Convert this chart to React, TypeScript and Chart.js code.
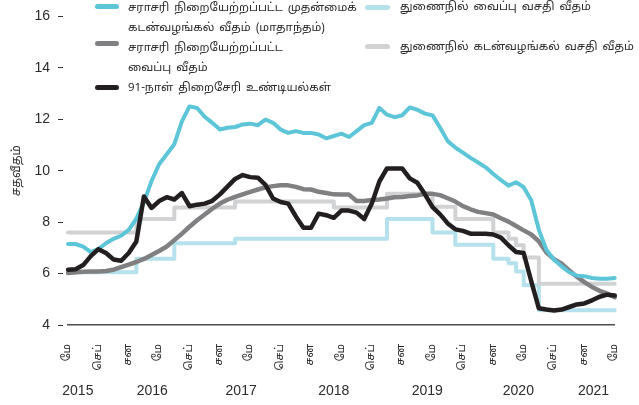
import React, { useEffect, useRef } from 'react';
import { Chart, registerables } from 'chart.js';

Chart.register(...registerables);

// Monthly categories: May 2015 .. May 2021
const START_YEAR = 2015;
const START_MONTH = 4; // May (0-based)
const MONTH_COUNT = 73;
const months: string[] = [];
for (let k = 0; k < MONTH_COUNT; k++) {
  const m = START_MONTH + k;
  months.push(`${START_YEAR + Math.floor(m / 12)}-${String((m % 12) + 1).padStart(2, '0')}`);
}

// Tick labels shown every 4 months
const tickLabels = [
  'மே', 'செப்', 'சன', 'மே', 'செப்', 'சன', 'மே', 'செப்', 'சன', 'மே',
  'செப்', 'சன', 'மே', 'செப்', 'சன', 'மே', 'செப்', 'சன', 'மே',
];

// Year labels and the month index they sit under
const yearLabels = ['2015', '2016', '2017', '2018', '2019', '2020', '2021'];
const yearAnchors = [1.3, 11.1, 22.8, 35.0, 47.3, 59.3, 69.2];

const seriesNames = {
  awpr: ['சராசரி நிறையேற்றப்பட்ட முதன்மைக்', 'கடன்வழங்கல் வீதம் (மாதாந்தம்)'],
  awdr: ['சராசரி நிறையேற்றப்பட்ட', 'வைப்பு வீதம்'],
  tbill: ['91-நாள் திறைசேரி உண்டியல்கள்'],
  sdfr: ['துணைநில் வைப்பு வசதி வீதம்'],
  slfr: ['துணைநில் கடன்வழங்கல் வசதி வீதம்'],
};

const awpr = [
  7.15, 7.15, 7.05, 6.83, 6.95, 7.18, 7.35, 7.47, 7.7, 8.14,
  8.78, 9.6, 10.25, 10.64, 11.03, 11.92, 12.5, 12.44, 12.1, 11.86,
  11.6, 11.67, 11.7, 11.8, 11.83, 11.77, 11.99, 11.86, 11.6, 11.47,
  11.54, 11.47, 11.47, 11.41, 11.26, 11.35, 11.44, 11.31, 11.54, 11.77,
  11.86, 12.44, 12.18, 12.08, 12.15, 12.46, 12.37, 12.22, 12.15, 11.67,
  11.15, 10.9, 10.7, 10.5, 10.32, 10.13, 9.87, 9.64, 9.42, 9.55,
  9.36, 8.85, 7.7, 6.92, 6.54, 6.28, 6.05, 5.92, 5.9, 5.83,
  5.8, 5.8, 5.83,
];

const awdr = [
  6.02, 6.05, 6.07, 6.08, 6.08, 6.1, 6.15, 6.25, 6.35, 6.45,
  6.57, 6.72, 6.88, 7.05, 7.3, 7.55, 7.82, 8.07, 8.3, 8.52,
  8.72, 8.87, 8.98, 9.08, 9.18, 9.27, 9.35, 9.4, 9.43, 9.43,
  9.37, 9.28, 9.27, 9.18, 9.13, 9.08, 9.07, 9.07, 8.82, 8.82,
  8.86, 8.88, 8.92, 8.97, 8.98, 9.02, 9.04, 9.1, 9.1, 9.05,
  8.93, 8.8, 8.62, 8.5, 8.4, 8.35, 8.3, 8.15, 8.02, 7.85,
  7.68, 7.52, 7.25, 6.82, 6.56, 6.38, 6.12, 5.88, 5.67, 5.48,
  5.33, 5.22, 5.08,
];

const tbill = [
  6.15, 6.17, 6.33, 6.68, 6.95, 6.8, 6.55, 6.5, 6.8, 7.25,
  9.0, 8.55, 8.82, 8.97, 8.88, 9.13, 8.62, 8.68, 8.72, 8.83,
  9.08, 9.38, 9.68, 9.83, 9.75, 9.73, 9.45, 8.92, 8.78, 8.72,
  8.22, 7.78, 7.78, 8.33, 8.27, 8.17, 8.45, 8.45, 8.37, 8.12,
  8.72, 9.58, 10.09, 10.09, 10.09, 9.7, 9.53, 9.08, 8.58, 8.3,
  7.95, 7.72, 7.66, 7.55, 7.55, 7.55, 7.52, 7.4, 7.1, 6.84,
  6.8, 5.7, 4.65, 4.6, 4.56, 4.6, 4.7, 4.8, 4.84, 4.96,
  5.1, 5.18, 5.15,
];

const sdfr = [
  6.05, 6.05, 6.05, 6.05, 6.05, 6.05, 6.05, 6.05, 6.05, 6.58,
  6.58, 6.58, 6.58, 6.58, 7.18, 7.18, 7.18, 7.18, 7.18, 7.18,
  7.18, 7.18, 7.35, 7.35, 7.35, 7.35, 7.35, 7.35, 7.35, 7.35,
  7.35, 7.35, 7.35, 7.35, 7.35, 7.35, 7.35, 7.35, 7.35, 7.35,
  7.35, 7.35, 8.12, 8.12, 8.12, 8.12, 8.12, 8.12, 7.6, 7.6,
  7.6, 7.12, 7.12, 7.12, 7.12, 7.12, 6.58, 6.58, 6.4, 6.08,
  5.55, 5.55, 4.57, 4.57, 4.57, 4.57, 4.57, 4.57, 4.57, 4.57,
  4.57, 4.57, 4.57,
];

const slfr = [
  7.6, 7.6, 7.6, 7.6, 7.6, 7.6, 7.6, 7.6, 7.6, 8.12,
  8.12, 8.12, 8.12, 8.12, 8.57, 8.57, 8.57, 8.57, 8.57, 8.57,
  8.57, 8.57, 8.8, 8.8, 8.8, 8.8, 8.8, 8.8, 8.8, 8.8,
  8.8, 8.8, 8.8, 8.8, 8.8, 8.57, 8.57, 8.57, 8.57, 8.57,
  8.57, 8.57, 9.1, 9.1, 9.1, 9.1, 9.1, 9.1, 8.6, 8.6,
  8.6, 8.12, 8.12, 8.12, 8.12, 8.12, 7.6, 7.6, 7.35, 7.1,
  6.62, 6.62, 5.6, 5.6, 5.6, 5.6, 5.6, 5.6, 5.6, 5.6,
  5.6, 5.6, 5.6,
];

const COLORS = {
  awpr: '#5cc6d8',
  awdr: '#808083',
  tbill: '#231f20',
  sdfr: '#b4e1eb',
  slfr: '#d1d2d4',
};

const TAMIL_FONT = '"Noto Sans Tamil", "Lohit Tamil", "Latha", "Noto Sans", "DejaVu Sans", sans-serif';
const NUM_FONT = '"Liberation Sans", Arial, sans-serif';
const TEXT_COLOR = '#2b2b2b';

export default function App() {
  const canvasRef = useRef<HTMLCanvasElement>(null);

  useEffect(() => {
    const canvas = canvasRef.current;
    if (!canvas) return;

    const yearPlugin = {
      id: 'yearLabels',
      afterDraw(chart: any) {
        const ctx = chart.ctx;
        const xs = chart.scales.x;
        ctx.save();
        ctx.font = `14px ${NUM_FONT}`;
        ctx.fillStyle = TEXT_COLOR;
        ctx.textAlign = 'center';
        ctx.textBaseline = 'middle';
        yearLabels.forEach((t, k) => {
          ctx.fillText(t, xs.getPixelForValue(yearAnchors[k]), 391);
        });
        ctx.restore();
      },
    };

    const chart = new Chart(canvas, {
      type: 'line',
      data: {
        labels: months,
        datasets: [
          { label: seriesNames.tbill.join(' '), data: tbill, borderColor: COLORS.tbill, borderWidth: 4.5 },
          { label: seriesNames.awpr.join(' '), data: awpr, borderColor: COLORS.awpr, borderWidth: 4 },
          { label: seriesNames.awdr.join(' '), data: awdr, borderColor: COLORS.awdr, borderWidth: 4.5 },
          { label: seriesNames.slfr.join(' '), data: slfr, borderColor: COLORS.slfr, borderWidth: 4, stepped: 'before' },
          { label: seriesNames.sdfr.join(' '), data: sdfr, borderColor: COLORS.sdfr, borderWidth: 4, stepped: 'before' },
        ],
      },
      options: {
        responsive: false,
        animation: false,
        layout: { padding: { left: 0, right: 17, top: 13, bottom: 0 } },
        plugins: {
          legend: { display: false },
          tooltip: { enabled: false },
        },
        elements: {
          point: { radius: 0 },
          line: { tension: 0, borderJoinStyle: 'round', borderCapStyle: 'round', fill: false },
        },
        scales: {
          x: {
            grid: { display: false },
            border: { display: true, color: '#4d4d4d', width: 1.5 },
            ticks: {
              autoSkip: false,
              minRotation: 90,
              maxRotation: 90,
              padding: 11,
              color: TEXT_COLOR,
              font: { family: TAMIL_FONT, size: 11 },
              callback: (_v: any, i: number) => (i % 4 === 0 ? tickLabels[i / 4] : ''),
            },
            afterFit: (s: any) => {
              s.height = 80;
            },
          },
          y: {
            min: 4,
            max: 16,
            ticks: {
              stepSize: 2,
              padding: 8,
              color: TEXT_COLOR,
              font: { family: NUM_FONT, size: 14 },
            },
            grid: {
              drawOnChartArea: false,
              tickLength: 10,
              tickBorderDash: [5, 100],
              tickColor: '#333333',
              tickWidth: 1,
            },
            border: { display: false },
            title: {
              display: true,
              text: 'சதவீதம்',
              color: TEXT_COLOR,
              font: { family: TAMIL_FONT, size: 12 },
              padding: { top: 10, bottom: 0 },
            },
            afterFit: (s: any) => {
              s.width = 68;
            },
          },
        },
      } as any,
      plugins: [yearPlugin],
    });

    return () => chart.destroy();
  }, []);

  const textStyle: React.CSSProperties = {
    position: 'absolute',
    fontFamily: TAMIL_FONT,
    fontSize: 11.5,
    wordSpacing: 2,
    lineHeight: '20px',
    color: TEXT_COLOR,
    whiteSpace: 'nowrap',
  };
  const swatch = (color: string, left: number, top: number, width: number): React.CSSProperties => ({
    position: 'absolute',
    left,
    top,
    width,
    height: 5,
    borderRadius: 3,
    background: color,
  });

  return (
    <div style={{ position: 'absolute', left: 0, top: 0, width: 639, height: 405, background: '#ffffff' }}>
      <canvas ref={canvasRef} width={639} height={405} style={{ display: 'block' }} />
      <div style={swatch(COLORS.awpr, 95, 4, 24)} />
      <div style={{ ...textStyle, left: 128, top: -2 }}>
        {seriesNames.awpr.map((l, k) => (
          <div key={k}>{l}</div>
        ))}
      </div>
      <div style={swatch(COLORS.awdr, 95, 41, 24)} />
      <div style={{ ...textStyle, left: 128, top: 38 }}>
        {seriesNames.awdr.map((l, k) => (
          <div key={k}>{l}</div>
        ))}
      </div>
      <div style={swatch(COLORS.tbill, 95, 85, 24)} />
      <div style={{ ...textStyle, left: 128, top: 78 }}>
        {seriesNames.tbill.map((l, k) => (
          <div key={k}>{l}</div>
        ))}
      </div>
      <div style={swatch(COLORS.sdfr, 365, 5, 25)} />
      <div style={{ ...textStyle, left: 400, top: -3 }}>
        {seriesNames.sdfr.map((l, k) => (
          <div key={k}>{l}</div>
        ))}
      </div>
      <div style={swatch(COLORS.slfr, 365, 44, 25)} />
      <div style={{ ...textStyle, left: 400, top: 37 }}>
        {seriesNames.slfr.map((l, k) => (
          <div key={k}>{l}</div>
        ))}
      </div>
    </div>
  );
}
